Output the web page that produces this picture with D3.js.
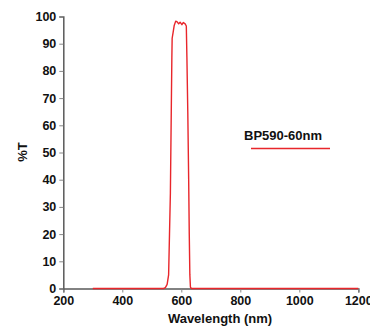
<!DOCTYPE html>
<html><head><meta charset="utf-8">
<script src="https://cdn.jsdelivr.net/npm/d3@7"></script>
<style>body{margin:0;background:#fff}svg{display:block}</style>
</head><body>
<script>
const wavelengths = [300,540,546,552,557,560,563,566,568,569,572,576,581,586,591,596,602,607,613,617,619,622,625,627,629,631,634,1200];
const transmission = [0,0,0.3,1.5,5,20,35,65,85,92,94,96.7,98.3,98.0,97.3,97.9,97.0,97.8,97.3,96.5,85,65,40,20,5,0.5,0,0];
const xTicks = [200,400,600,800,1000,1200];
const yTicks = [0,10,20,30,40,50,60,70,80,90,100];
const seriesName = "BP590-60nm";

const W=370,H=329;
const svg=d3.select("body").append("svg").attr("width",W).attr("height",H);
const x=d3.scaleLinear().domain([200,1200]).range([63.3,358.3]);
const y=d3.scaleLinear().domain([0,100]).range([288.5,16.5]);
const font="'Liberation Sans', Arial, sans-serif";
const axisColor="#5a5a5a";

const gx=svg.append("g").attr("transform","translate(0,288.5)")
  .call(d3.axisBottom(x).tickValues(xTicks).tickFormat(d3.format("d")).tickSize(4).tickPadding(4));
const gy=svg.append("g").attr("transform","translate(63.3,0)")
  .call(d3.axisLeft(y).tickValues(yTicks).tickFormat(d3.format("d")).tickSize(4).tickPadding(3));
[gx,gy].forEach(g=>{
  g.select(".domain").attr("stroke",axisColor).attr("stroke-width",1.5);
  g.selectAll(".tick line").attr("stroke","#888");
  g.selectAll(".tick text").attr("fill","#111").attr("font-family",font).attr("font-weight","bold").attr("font-size","12.5px");
});

const line=d3.line().x((d,i)=>x(wavelengths[i])).y(d=>y(d));
svg.append("path").datum(transmission).attr("d",line)
  .attr("fill","none").attr("stroke","#e8262b").attr("stroke-width",1.4).attr("stroke-linejoin","round");

svg.append("text").attr("x",220).attr("y",323).attr("text-anchor","middle")
  .attr("font-family",font).attr("font-weight","bold").attr("font-size","13px").attr("fill","#111")
  .text("Wavelength (nm)");
svg.append("text").attr("transform","translate(27,152) rotate(-90)").attr("text-anchor","middle")
  .attr("font-family",font).attr("font-weight","bold").attr("font-size","13px").attr("fill","#111")
  .text("%T");

svg.append("text").attr("x",244).attr("y",140)
  .attr("font-family",font).attr("font-weight","bold").attr("font-size","13px").attr("fill","#111")
  .text(seriesName);
svg.append("line").attr("x1",251).attr("x2",330).attr("y1",148.5).attr("y2",148.5)
  .attr("stroke","#e8262b").attr("stroke-width",1.4);
</script>
</body></html>
